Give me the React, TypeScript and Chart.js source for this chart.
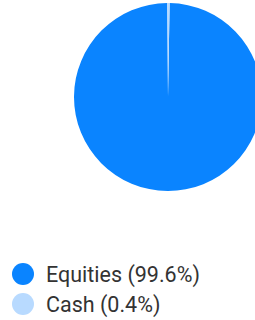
import React, { useEffect, useRef } from "react";
import { Chart, registerables } from "chart.js";

Chart.register(...registerables);

const categories = ["Equities", "Cash"];
const values = [99.6, 0.4];
const colors = ["#0A84FF", "#B8DAFF"];

export default function App() {
  const canvasRef = useRef<HTMLCanvasElement | null>(null);

  useEffect(() => {
    const ctx = canvasRef.current;
    if (!ctx) return;
    const chart = new Chart(ctx, {
      type: "pie",
      data: {
        labels: categories,
        datasets: [
          {
            data: values,
            backgroundColor: colors,
            borderWidth: 0,
          },
        ],
      },
      options: {
        animation: false,
        responsive: false,
        maintainAspectRatio: false,
        rotation: 1,
        layout: { padding: 0 },
        plugins: {
          legend: { display: false },
          tooltip: { enabled: false },
        },
      },
    });
    return () => chart.destroy();
  }, []);

  return (
    <div
      style={{
        position: "fixed",
        left: 0,
        top: 0,
        width: 255,
        height: 320,
        overflow: "hidden",
        background: "#fff",
        fontFamily: "Roboto, sans-serif",
      }}
    >
      <canvas
        ref={canvasRef}
        width={188}
        height={188}
        style={{ position: "absolute", left: 74, top: 3, width: 188, height: 188 }}
      />
      <div style={{ position: "absolute", left: 12, top: 259 }}>
        {categories.map((c, i) => (
          <div
            key={c}
            style={{
              display: "flex",
              alignItems: "center",
              height: 30,
              fontSize: 21.5,
              color: "#333",
              whiteSpace: "nowrap",
            }}
          >
            <span
              style={{
                display: "inline-block",
                width: 22,
                height: 22,
                borderRadius: "50%",
                background: colors[i],
                marginRight: 12,
                flexShrink: 0,
              }}
            />
            <span>{`${c} (${values[i]}%)`}</span>
          </div>
        ))}
      </div>
    </div>
  );
}
